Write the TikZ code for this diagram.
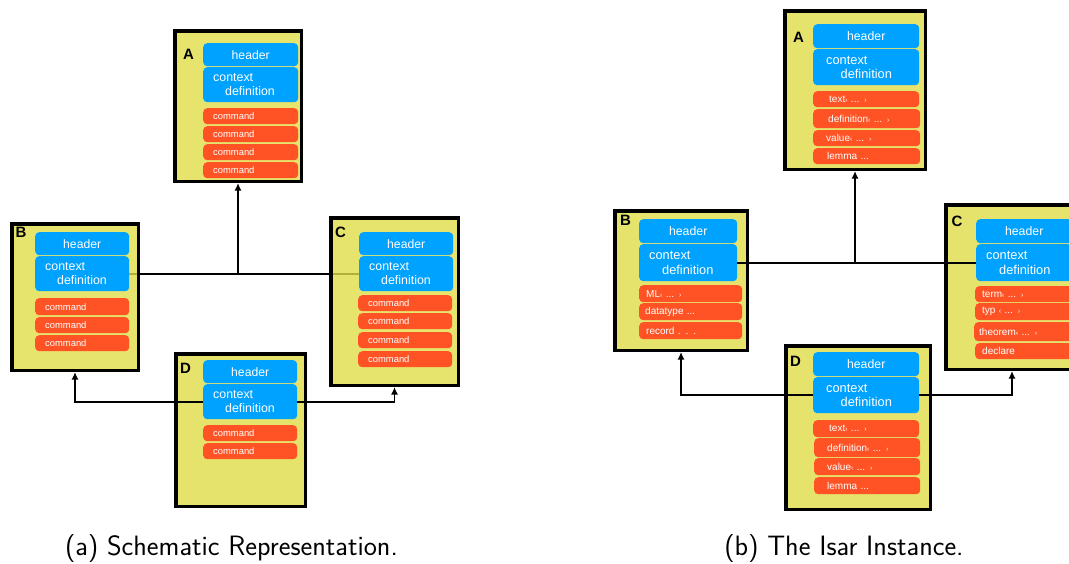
\documentclass[tikz,border=0pt]{standalone}
\usepackage{fontspec}
\newfontfamily\helv{Liberation Sans}
\usetikzlibrary{arrows.meta,calc}
\pgfdeclarelayer{background}
\pgfsetlayers{background,main}
\definecolor{boxyellow}{RGB}{230,227,108}
\definecolor{boxyellowL}{RGB}{224,221,72}
\definecolor{hblue}{RGB}{0,162,255}
\definecolor{corange}{RGB}{255,83,38}
\newcommand\lgq{{\fontsize{7}{8}\selectfont‹}}
\newcommand\rgq{{\fontsize{7}{8}\selectfont›}}
\newcommand\mkbox[6]{%
  \pgfmathsetmacro\mybw{#5-#3-3.5}\pgfmathsetmacro\mybh{#6-#4-3.5}%
  \node[#2, minimum width=\mybw pt, minimum height=\mybh pt] (#1) at ({(#3+#5)/2},{(#4+#6)/2}) {};}
\newcommand\mkcell[8]{%
  \pgfmathsetmacro\mycw{#5-#3-2*#7}\pgfmathsetmacro\mych{#6-#4}%
  \node[#2, anchor=north west, inner xsep=#7pt, inner ysep=0pt, text width=\mycw pt, minimum height=\mych pt] (#1) at (#3,#4) {#8};}
\begin{document}
\begin{tikzpicture}[x=1pt,y=-1pt,
  ybox/.style={draw=black, line width=3.5pt, fill=boxyellow, inner sep=0pt},
  yboxL/.style={ybox, fill=boxyellowL, fill opacity=0.8},
  hdr/.style={fill=hblue, rounded corners=4pt, text=white, align=center, font=\helv\fontsize{#1}{14}\selectfont},
  hdr/.default=12.2,
  ctx/.style={fill=hblue, rounded corners=4pt, text=white, align=left, font=\helv\fontsize{#1}{14.5}\selectfont},
  ctx/.default=12.4,
  cmd/.style={fill=corange, rounded corners=4pt, text=white, align=left, font=\helv\fontsize{#1}{11}\selectfont},
  cmd/.default=9.4,
  lbl/.style={font=\helv\bfseries\fontsize{15}{17}\selectfont, inner sep=0pt},
  conn/.style={line width=1.6pt, draw=black},
  arr/.style={conn, -{Latex[length=7.5pt,width=7pt]}},
  captext/.style={font=\sffamily\fontsize{28}{32}\selectfont, inner sep=0pt}]
\useasboundingbox (0,0) rectangle (1069,563);
\clip (0,0) rectangle (1069,563);
% ---------------- left panel ----------------
\mkbox{LA}{yboxL}{173}{29}{303}{183}
\node[lbl] (LAl) at (188.5,54) {A};
\mkcell{LAh}{hdr}{203}{43}{298}{66}{0}{header}
\mkcell{LAc}{ctx}{203}{67}{298}{102}{10}{context\\\hspace*{12pt}definition}
\mkcell{LA1}{cmd}{203}{108}{298}{124}{10}{command}
\mkcell{LA2}{cmd}{203}{126}{298}{142}{10}{command}
\mkcell{LA3}{cmd}{203}{144}{298}{160}{10}{command}
\mkcell{LA4}{cmd}{203}{162}{298}{178}{10}{command}

\mkbox{LB}{yboxL}{10}{222}{140}{372}
\node[lbl] (LBl) at (21,232.5) {B};
\mkcell{LBh}{hdr}{35}{232}{129}{255}{0}{header}
\mkcell{LBc}{ctx}{35}{256}{129}{291}{10}{context\\\hspace*{12pt}definition}
\mkcell{LB1}{cmd}{35}{298}{129}{315}{10}{command}
\mkcell{LB2}{cmd}{35}{317}{129}{333}{10}{command}
\mkcell{LB3}{cmd}{35}{335}{129}{351}{10}{command}

\mkbox{LC}{yboxL}{329}{216}{460}{387}
\node[lbl] (LCl) at (340.5,232.5) {C};
\mkcell{LCh}{hdr}{359}{232}{453}{255}{0}{header}
\mkcell{LCc}{ctx}{359}{256}{453}{291}{10}{context\\\hspace*{12pt}definition}
\mkcell{LC1}{cmd}{358}{295}{452}{311}{10}{command}
\mkcell{LC2}{cmd}{358}{313}{452}{329}{10}{command}
\mkcell{LC3}{cmd}{358}{332}{452}{348}{10}{command}
\mkcell{LC4}{cmd}{358}{351}{452}{367}{10}{command}

\mkbox{LD}{ybox}{174}{352}{307}{508}
\node[lbl] (LDl) at (185.5,368) {D};
\mkcell{LDh}{hdr}{203}{360}{297}{383}{0}{header}
\mkcell{LDc}{ctx}{203}{384}{297}{419}{10}{context\\\hspace*{12pt}definition}
\mkcell{LD1}{cmd}{203}{425}{297}{441}{10}{command}
\mkcell{LD2}{cmd}{203}{443}{297}{459}{10}{command}

\begin{pgfonlayer}{background}
\draw[conn] (LBc.east) -- (LCc.west);
\end{pgfonlayer}
\draw[arr] (LA.south |- LBc.east) -- (LA.south);
\draw[arr] (LDc.west) -| (LB.south);
\draw[arr] (LDc.east) -| (LC.south);

% ---------------- right panel ----------------
\mkbox{RA}{ybox}{783}{9}{927}{171}
\node[lbl] (RAl) at (798.5,37) {A};
\mkcell{RAh}{hdr=12.3}{813}{24}{919}{48}{0}{header}
\mkcell{RAc}{ctx=12.8}{813}{49}{919}{85}{13}{context\\\hspace*{14.5pt}definition}
\mkcell{RA1}{cmd=10}{813}{91}{919}{107}{16}{text\lgq{} ... \rgq}
\mkcell{RA2}{cmd=10}{813}{109}{920}{128}{15}{definition\lgq{} ... \rgq}
\mkcell{RA3}{cmd=10}{813}{130}{920}{146}{13}{value\lgq{} ... \rgq}
\mkcell{RA4}{cmd=10}{813}{148}{920}{164}{14}{lemma ...}

\mkbox{RB}{ybox}{613}{209}{749}{352}
\node[lbl] (RBl) at (625.5,220.5) {B};
\mkcell{RBh}{hdr=12.3}{639}{219}{737}{243}{0}{header}
\mkcell{RBc}{ctx=12.8}{639}{244}{737}{281}{10}{context\\\hspace*{13pt}definition}
\mkcell{RB1}{cmd=10}{639}{285}{742}{302}{7}{ML\lgq{} ... \rgq}
\mkcell{RB2}{cmd=10}{639}{303}{742}{320}{6}{datatype ...}
\mkcell{RB3}{cmd=10}{639}{322}{742}{339}{7}{record . . .}

\mkbox{RC}{ybox}{944}{203}{1080}{371}
\node[lbl] (RCl) at (957,221) {C};
\mkcell{RCh}{hdr=12.3}{976}{219}{1072}{243}{0}{header}
\mkcell{RCc}{ctx=12.8}{976}{244}{1072}{281}{10}{context\\\hspace*{13pt}definition}
\mkcell{RC1}{cmd=10}{975}{286}{1072}{302}{7}{term\lgq{} ... \rgq}
\mkcell{RC2}{cmd=10}{975}{303}{1072}{320}{7}{typ \lgq{} ... \rgq}
\mkcell{RC3}{cmd=10}{974}{322}{1072}{341}{5}{theorem\lgq{} ... \rgq}
\mkcell{RC4}{cmd=10}{975}{343}{1072}{359}{7}{declare}

\mkbox{RD}{ybox}{784}{344}{932}{511}
\node[lbl] (RDl) at (795.5,361) {D};
\mkcell{RDh}{hdr=12.3}{813}{352}{919}{376}{0}{header}
\mkcell{RDc}{ctx=12.8}{813}{377}{919}{413}{13}{context\\\hspace*{14.5pt}definition}
\mkcell{RD1}{cmd=10}{813}{420}{919}{437}{16}{text\lgq{} ... \rgq}
\mkcell{RD2}{cmd=10}{814}{438}{920}{457}{13}{definition\lgq{} ... \rgq}
\mkcell{RD3}{cmd=10}{814}{458}{920}{475}{13}{value\lgq{} ... \rgq}
\mkcell{RD4}{cmd=10}{814}{477}{920}{494}{13}{lemma ...}

\draw[conn] (RBc.east) -- (RCc.west);
\draw[arr] (RA.south |- RBc.east) -- (RA.south);
\draw[arr] (RDc.west) -| (RB.south);
\draw[arr] (RDc.east) -| (RC.south);

% ---------------- captions ----------------
\node[captext, anchor=base] (capa) at (231.5,555) {(a) Schematic Representation.};
\node[captext, anchor=base] (capb) at (844,555) {(b) The Isar Instance.};
\end{tikzpicture}
\end{document}
